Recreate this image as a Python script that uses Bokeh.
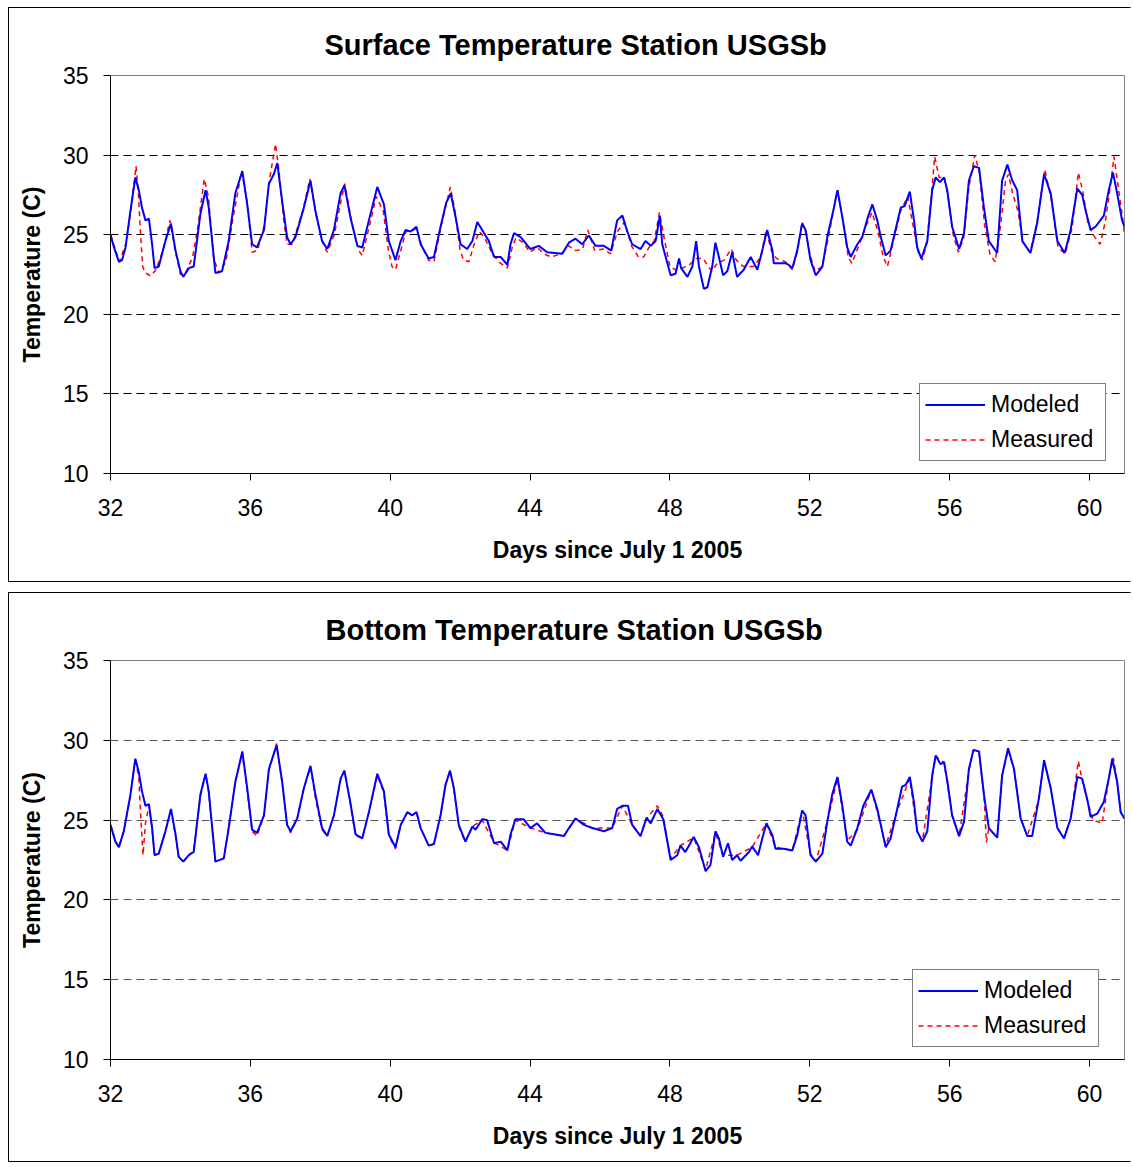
from bokeh.plotting import figure
from bokeh.models import FixedTicker, Legend, LegendItem, Title, Range1d
from bokeh.layouts import column
from bokeh.embed import file_html
from bokeh.resources import INLINE

FONT = "Liberation Sans"

# ---------------- data ----------------
x_ticks = [32, 36, 40, 44, 48, 52, 56, 60]
y_ticks = [10, 15, 20, 25, 30, 35]
grid_vals = [15, 20, 25, 30]

titles = ["Surface Temperature  Station USGSb", "Bottom Temperature  Station USGSb"]
x_label = "Days since July 1 2005"
y_label = "Temperature (C)"
series_names = ["Modeled", "Measured"]

surf_mod_day = [32.0, 32.1, 32.24, 32.33, 32.43, 32.57, 32.71, 32.81, 32.9, 33.0, 33.1, 33.19, 33.26, 33.38,
                33.57, 33.73, 33.86, 34.0, 34.08, 34.24, 34.38, 34.57, 34.72, 34.81, 35.0, 35.19, 35.38, 35.57,
                35.77, 35.91, 36.05, 36.19, 36.39, 36.53, 36.67, 36.77, 36.91, 37.05, 37.15, 37.29, 37.53, 37.72,
                37.86, 38.05, 38.2, 38.39, 38.58, 38.69, 38.86, 39.06, 39.2, 39.39, 39.63, 39.82, 39.96, 40.15,
                40.3, 40.44, 40.58, 40.75, 40.87, 41.1, 41.25, 41.44, 41.6, 41.73, 41.87, 42.01, 42.2, 42.35,
                42.49, 42.63, 42.82, 42.97, 43.16, 43.35, 43.44, 43.54, 43.73, 44.01, 44.25, 44.49, 44.92, 45.11,
                45.3, 45.49, 45.68, 45.87, 46.11, 46.32, 46.49, 46.64, 46.78, 46.92, 47.16, 47.3, 47.45, 47.59,
                47.71, 47.78, 48.02, 48.16, 48.26, 48.32, 48.5, 48.64, 48.75, 48.83, 48.97, 49.07, 49.21, 49.3,
                49.4, 49.52, 49.64, 49.78, 49.92, 50.11, 50.31, 50.5, 50.64, 50.78, 50.93, 50.97, 51.16, 51.31,
                51.4, 51.5, 51.64, 51.78, 51.88, 52.02, 52.17, 52.36, 52.5, 52.69, 52.79, 52.93, 53.07, 53.17,
                53.36, 53.5, 53.66, 53.79, 53.93, 54.03, 54.17, 54.31, 54.45, 54.6, 54.71, 54.86, 54.98, 55.07,
                55.19, 55.36, 55.5, 55.6, 55.72, 55.84, 55.93, 56.07, 56.27, 56.41, 56.55, 56.69, 56.84, 56.98,
                57.12, 57.36, 57.5, 57.65, 57.79, 57.93, 58.08, 58.31, 58.5, 58.7, 58.89, 59.08, 59.29, 59.46,
                59.65, 59.79, 59.89, 60.03, 60.17, 60.41, 60.55, 60.67, 60.79, 60.93, 61.0]
surf_mod_t = [25.0, 24.2, 23.3, 23.4, 24.2, 26.5, 28.6, 27.8, 26.7, 25.9, 26.0, 24.4, 22.9, 23.0,
              24.6, 25.7, 24.0, 22.7, 22.35, 22.9, 23.0, 26.3, 27.8, 26.7, 22.6, 22.7, 24.6, 27.6,
              29.0, 26.9, 24.4, 24.2, 25.3, 28.2, 28.8, 29.5, 27.1, 24.85, 24.4, 24.85, 26.7, 28.4,
              26.5, 24.6, 24.1, 25.3, 27.6, 28.1, 26.1, 24.3, 24.2, 25.9, 28.0, 26.9, 24.6, 23.4,
              24.6, 25.3, 25.2, 25.5, 24.4, 23.5, 23.6, 25.5, 27.0, 27.6, 26.1, 24.4, 24.1, 24.6,
              25.8, 25.3, 24.6, 23.6, 23.6, 23.1, 24.4, 25.1, 24.85, 24.1, 24.3, 23.9, 23.8, 24.5,
              24.75, 24.4, 24.95, 24.3, 24.3, 24.0, 25.9, 26.2, 25.2, 24.4, 24.1, 24.6, 24.3, 24.6,
              26.2, 24.4, 22.45, 22.55, 23.5, 22.9, 22.35, 23.0, 24.6, 23.0, 21.6, 21.7, 23.0, 24.5,
              23.6, 22.45, 22.7, 23.9, 22.35, 22.8, 23.6, 22.8, 24.0, 25.3, 24.0, 23.2, 23.2, 23.2,
              23.1, 22.9, 24.0, 25.7, 25.3, 23.4, 22.45, 23.0, 24.85, 26.7, 27.8, 26.1, 24.2, 23.6,
              24.4, 24.85, 26.1, 26.9, 25.9, 24.85, 23.7, 24.0, 25.3, 26.7, 26.8, 27.7, 25.9, 24.2,
              23.5, 24.6, 27.8, 28.6, 28.3, 28.6, 27.8, 25.5, 24.1, 25.1, 28.4, 29.3, 29.2, 26.7,
              24.6, 23.85, 28.4, 29.4, 28.4, 27.8, 24.6, 23.85, 25.7, 28.8, 27.6, 24.6, 23.85, 25.3,
              27.9, 27.5, 26.5, 25.3, 25.5, 26.2, 27.8, 28.9, 27.6, 25.9, 25.5]

surf_meas_day = [32.0, 32.15, 32.25, 32.45, 32.6, 32.73, 32.8, 32.86, 32.92, 33.0, 33.15, 33.3, 33.5, 33.7,
                 33.85, 34.0, 34.15, 34.35, 34.5, 34.68, 34.8, 34.95, 35.1, 35.3, 35.5, 35.75, 35.9, 36.05,
                 36.2, 36.4, 36.55, 36.72, 36.82, 36.95, 37.05, 37.2, 37.5, 37.7, 37.9, 38.1, 38.2, 38.4,
                 38.6, 38.7, 38.9, 39.1, 39.2, 39.4, 39.6, 39.8, 39.95, 40.05, 40.15, 40.3, 40.45, 40.6,
                 40.75, 40.9, 41.1, 41.25, 41.45, 41.72, 41.85, 42.0, 42.1, 42.25, 42.4, 42.55, 42.7, 42.9,
                 43.1, 43.35, 43.5, 43.6, 43.8, 44.0, 44.2, 44.4, 44.6, 44.9, 45.1, 45.3, 45.5, 45.65,
                 45.85, 46.1, 46.3, 46.5, 46.7, 46.9, 47.1, 47.25, 47.4, 47.55, 47.7, 47.85, 48.0, 48.15,
                 48.35, 48.55, 48.75, 48.95, 49.1, 49.2, 49.35, 49.55, 49.75, 49.9, 50.1, 50.25, 50.4, 50.6,
                 50.75, 50.9, 51.05, 51.3, 51.5, 51.65, 51.78, 51.9, 52.0, 52.15, 52.35, 52.55, 52.75, 52.8,
                 52.95, 53.1, 53.2, 53.4, 53.6, 53.78, 53.95, 54.1, 54.22, 54.4, 54.6, 54.8, 54.95, 55.1,
                 55.22, 55.35, 55.5, 55.57, 55.7, 55.85, 55.95, 56.1, 56.25, 56.4, 56.55, 56.72, 56.85, 57.0,
                 57.15, 57.3, 57.45, 57.6, 57.68, 57.8, 57.95, 58.1, 58.3, 58.5, 58.72, 58.9, 59.1, 59.3,
                 59.5, 59.68, 59.8, 59.95, 60.1, 60.3, 60.45, 60.58, 60.7, 60.82, 60.95, 61.0]
surf_meas_t = [25.0, 24.0, 23.3, 24.5, 26.8, 29.3, 27.5, 25.0, 23.0, 22.6, 22.4, 22.8, 24.0, 25.9,
               24.0, 22.5, 22.6, 23.6, 25.5, 28.5, 27.4, 23.5, 22.6, 23.3, 26.0, 29.0, 27.2, 23.9,
               24.0, 25.6, 28.5, 30.7, 29.0, 26.0, 24.4, 24.4, 26.5, 28.5, 26.0, 24.3, 23.9, 25.0,
               27.2, 28.2, 25.8, 24.0, 23.7, 25.5, 27.4, 26.5, 24.0, 23.0, 22.8, 24.0, 25.2, 25.2,
               25.4, 24.3, 23.4, 23.3, 25.5, 28.0, 26.5, 24.0, 23.4, 23.3, 24.4, 25.2, 24.8, 23.9,
               23.3, 22.9, 24.3, 24.8, 24.5, 23.9, 24.2, 23.8, 23.6, 23.8, 24.3, 24.0, 24.1, 25.3,
               24.0, 24.1, 23.8, 25.2, 25.8, 24.3, 23.6, 23.6, 24.2, 24.6, 26.4, 24.6, 23.0, 22.8,
               22.9, 23.1, 23.5, 23.5, 23.0, 22.7, 23.2, 23.4, 24.1, 23.4, 23.0, 23.0, 23.0, 23.6,
               25.3, 24.0, 23.5, 23.3, 22.8, 24.0, 25.8, 25.0, 23.8, 22.7, 23.0, 25.0, 27.4, 27.8,
               25.8, 23.6, 23.2, 24.3, 25.5, 26.4, 25.2, 23.6, 23.0, 24.7, 26.5, 27.4, 25.6, 23.9,
               23.4, 24.5, 28.0, 29.9, 28.6, 28.6, 27.4, 25.0, 23.9, 24.8, 28.0, 30.0, 28.9, 25.6,
               23.8, 23.3, 25.5, 28.4, 28.8, 27.6, 26.5, 24.5, 23.9, 25.8, 29.1, 27.3, 24.2, 23.8,
               25.4, 28.9, 27.8, 25.8, 25.0, 24.4, 25.8, 27.8, 29.9, 28.0, 26.0, 25.0]

bot_mod_day = [32.0, 32.14, 32.24, 32.38, 32.57, 32.71, 32.81, 32.9, 33.0, 33.1, 33.19, 33.26, 33.38, 33.57,
               33.73, 33.86, 33.95, 34.08, 34.24, 34.38, 34.57, 34.72, 34.81, 35.0, 35.24, 35.38, 35.57, 35.77,
               35.91, 36.05, 36.19, 36.39, 36.53, 36.75, 36.91, 37.05, 37.15, 37.34, 37.53, 37.72, 37.86, 38.05,
               38.2, 38.39, 38.58, 38.69, 38.86, 39.01, 39.2, 39.39, 39.63, 39.82, 39.96, 40.15, 40.3, 40.49,
               40.63, 40.75, 40.87, 41.1, 41.25, 41.44, 41.58, 41.71, 41.82, 41.96, 42.15, 42.35, 42.44, 42.63,
               42.77, 42.97, 43.16, 43.35, 43.44, 43.58, 43.82, 44.01, 44.2, 44.44, 44.73, 44.97, 45.11, 45.3,
               45.54, 45.78, 46.11, 46.35, 46.49, 46.64, 46.8, 46.92, 47.16, 47.33, 47.45, 47.64, 47.81, 48.02,
               48.21, 48.3, 48.44, 48.57, 48.68, 48.83, 49.02, 49.16, 49.3, 49.4, 49.52, 49.66, 49.78, 49.92,
               50.02, 50.26, 50.35, 50.52, 50.64, 50.76, 50.93, 51.02, 51.26, 51.5, 51.64, 51.78, 51.88, 52.02,
               52.17, 52.36, 52.5, 52.64, 52.79, 52.93, 53.07, 53.17, 53.36, 53.53, 53.76, 53.93, 54.03, 54.17,
               54.31, 54.5, 54.64, 54.74, 54.86, 54.98, 55.07, 55.22, 55.36, 55.5, 55.6, 55.74, 55.84, 55.95,
               56.07, 56.27, 56.41, 56.55, 56.68, 56.84, 56.98, 57.12, 57.36, 57.5, 57.67, 57.84, 58.03, 58.22,
               58.36, 58.55, 58.7, 58.89, 59.08, 59.27, 59.46, 59.65, 59.79, 59.94, 60.03, 60.22, 60.41, 60.55,
               60.65, 60.79, 60.89, 61.0]
bot_mod_t = [24.7, 23.65, 23.3, 24.3, 26.6, 28.85, 28.0, 26.8, 25.9, 26.0, 24.5, 22.8, 22.9, 24.3,
             25.7, 24.1, 22.7, 22.4, 22.8, 23.0, 26.6, 27.9, 26.8, 22.4, 22.6, 24.5, 27.4, 29.3,
             27.0, 24.4, 24.2, 25.3, 28.2, 29.7, 27.4, 24.7, 24.3, 25.1, 27.0, 28.4, 26.6, 24.5,
             24.0, 25.3, 27.6, 28.1, 26.1, 24.1, 23.85, 25.5, 27.9, 26.8, 24.1, 23.3, 24.7, 25.5,
             25.3, 25.5, 24.5, 23.4, 23.5, 25.3, 27.2, 28.1, 27.0, 24.7, 23.65, 24.6, 24.4, 25.05,
             25.0, 23.55, 23.65, 23.1, 24.1, 25.05, 25.05, 24.5, 24.8, 24.2, 24.1, 24.0, 24.5, 25.1,
             24.7, 24.5, 24.3, 24.5, 25.7, 25.9, 25.9, 24.7, 24.0, 25.15, 24.8, 25.7, 25.05, 22.5,
             22.8, 23.4, 23.0, 23.5, 23.95, 23.3, 21.8, 22.2, 24.3, 23.85, 22.7, 23.55, 22.5, 22.8,
             22.45, 23.0, 23.35, 22.8, 23.85, 24.8, 24.05, 23.2, 23.2, 23.1, 24.05, 25.6, 25.3, 22.8,
             22.4, 22.9, 24.9, 26.6, 27.7, 25.9, 23.65, 23.4, 24.5, 25.9, 26.9, 25.7, 24.7, 23.3,
             23.85, 25.7, 27.1, 27.2, 27.7, 26.1, 24.3, 23.65, 24.3, 27.8, 29.05, 28.5, 28.65, 27.2,
             25.3, 24.0, 24.9, 28.2, 29.4, 29.3, 26.6, 24.5, 23.9, 27.8, 29.5, 28.2, 25.1, 24.0,
             24.0, 26.35, 28.75, 27.0, 24.5, 23.85, 25.1, 27.7, 27.6, 26.25, 25.2, 25.4, 26.15, 27.6,
             28.85, 27.4, 25.5, 25.1]

bot_meas_day = [32.0, 32.14, 32.24, 32.38, 32.57, 32.71, 32.81, 32.87, 32.93, 33.0, 33.1, 33.19, 33.26, 33.38,
                33.57, 33.73, 33.86, 33.95, 34.08, 34.24, 34.38, 34.57, 34.72, 34.81, 35.0, 35.24, 35.38, 35.57,
                35.77, 35.91, 36.05, 36.19, 36.39, 36.53, 36.75, 36.91, 37.05, 37.15, 37.34, 37.53, 37.72, 37.86,
                38.05, 38.2, 38.39, 38.58, 38.69, 38.86, 39.01, 39.2, 39.39, 39.63, 39.82, 39.96, 40.15, 40.3,
                40.49, 40.63, 40.75, 40.87, 41.1, 41.25, 41.44, 41.58, 41.71, 41.82, 41.96, 42.15, 42.35, 42.63,
                42.97, 43.35, 43.58, 44.01, 44.44, 44.97, 45.3, 45.78, 46.35, 46.64, 46.92, 47.16, 47.33, 47.64,
                47.81, 47.92, 48.02, 48.3, 48.68, 49.02, 49.3, 49.52, 49.92, 50.35, 50.76, 51.02, 51.5, 51.78,
                52.02, 52.17, 52.5, 52.79, 53.07, 53.36, 53.76, 54.03, 54.17, 54.5, 54.86, 55.07, 55.22, 55.5,
                55.6, 55.84, 56.07, 56.27, 56.55, 56.68, 56.84, 56.98, 57.05, 57.12, 57.36, 57.5, 57.67, 57.84,
                58.03, 58.22, 58.55, 58.7, 58.89, 59.08, 59.27, 59.46, 59.68, 59.79, 59.94, 60.1, 60.36, 60.55,
                60.68, 60.79, 60.89, 61.0]
bot_meas_t = [24.7, 23.7, 23.3, 24.3, 26.5, 28.9, 27.6, 25.0, 22.8, 24.8, 25.9, 24.5, 22.8, 22.9,
              24.3, 25.6, 24.0, 22.7, 22.4, 22.8, 23.1, 26.5, 27.9, 26.7, 22.4, 22.6, 24.5, 27.4,
              29.2, 26.8, 24.3, 24.0, 25.3, 28.1, 29.8, 27.3, 24.7, 24.2, 25.1, 27.0, 28.3, 26.4,
              24.4, 24.0, 25.3, 27.5, 28.1, 26.0, 24.0, 23.9, 25.5, 27.8, 26.7, 24.0, 23.2, 24.7,
              25.5, 25.3, 25.5, 24.5, 23.4, 23.5, 25.3, 27.2, 28.1, 27.0, 24.6, 23.6, 24.6, 25.0,
              23.6, 23.1, 25.0, 24.5, 24.2, 24.0, 25.1, 24.5, 24.5, 25.9, 24.7, 24.0, 25.1, 25.9,
              25.2, 23.8, 22.6, 23.4, 23.9, 21.9, 24.2, 22.8, 22.8, 23.3, 24.8, 23.3, 23.1, 25.6,
              22.9, 22.4, 24.9, 27.6, 23.7, 24.4, 26.9, 24.7, 23.4, 25.6, 27.6, 24.3, 23.7, 27.7,
              29.0, 28.6, 25.3, 24.0, 28.1, 29.4, 29.2, 26.6, 23.6, 24.5, 23.9, 27.8, 29.4, 28.2,
              25.1, 24.0, 26.3, 28.7, 27.0, 24.5, 23.9, 25.1, 28.7, 27.5, 26.2, 25.0, 24.8, 27.6,
              28.9, 27.4, 25.5, 25.1]

panels = [
    dict(title=titles[0], mday=surf_mod_day, mt=surf_mod_t, sday=surf_meas_day, st=surf_meas_t,
         height=575, bottom=110, offset=214, legend=(809, 12), grid="#000000"),
    dict(title=titles[1], mday=bot_mod_day, mt=bot_mod_t, sday=bot_meas_day, st=bot_meas_t,
         height=570, bottom=104, offset=215, legend=(802, 12), grid="#555555"),
]


def make_panel(cfg):
    p = figure(width=1123, height=cfg["height"], x_range=Range1d(32, 61), y_range=Range1d(10, 35),
               output_backend="svg", toolbar_location=None,
               min_border_left=101, min_border_right=8, min_border_top=67, min_border_bottom=cfg["bottom"])
    p.styles = {"border-top": "1px solid black", "border-left": "1px solid black",
                "border-bottom": "1px solid black", "border-right": "1px solid white"}
    p.background_fill_color = "white"
    p.border_fill_color = "white"
    p.outline_line_color = "#808080"
    p.outline_line_width = 1

    t = Title(text=cfg["title"], align="left", offset=cfg["offset"], text_font=FONT,
              text_font_size="29px", text_font_style="bold", text_color="black", standoff=30)
    p.title = t

    for ax in (p.xaxis[0], p.yaxis[0]):
        ax.axis_line_color = "black"
        ax.axis_line_width = 1
        ax.major_tick_in = 0
        ax.major_tick_out = 7
        ax.minor_tick_line_color = None
        ax.major_label_text_font = FONT
        ax.major_label_text_font_size = "23px"
        ax.major_label_text_color = "black"
        ax.axis_label_text_font = FONT
        ax.axis_label_text_font_size = "23px"
        ax.axis_label_text_font_style = "bold"
        ax.axis_label_text_color = "black"
    p.xaxis.ticker = FixedTicker(ticks=x_ticks)
    p.yaxis.ticker = FixedTicker(ticks=y_ticks)
    p.xaxis.axis_label = x_label
    p.yaxis.axis_label = y_label
    p.xaxis.major_label_standoff = 18
    p.yaxis.major_label_standoff = 15
    p.xaxis.axis_label_standoff = 18
    p.yaxis.axis_label_standoff = 15

    p.xgrid.visible = False
    p.ygrid.ticker = FixedTicker(ticks=grid_vals)
    p.ygrid.grid_line_color = cfg["grid"]
    p.ygrid.grid_line_dash = "8 5"
    p.ygrid.grid_line_width = 1

    r_meas = p.line(cfg["sday"], cfg["st"], line_color="#FF0000", line_width=1.5, line_dash="5 4")
    r_mod = p.line(cfg["mday"], cfg["mt"], line_color="#0000FF", line_width=2)

    legend = Legend(items=[LegendItem(label=series_names[0], renderers=[r_mod]),
                           LegendItem(label=series_names[1], renderers=[r_meas])],
                    location=cfg["legend"], orientation="vertical",
                    border_line_color="black", border_line_width=1, background_fill_color="white",
                    background_fill_alpha=1.0, label_text_font=FONT, label_text_font_size="23px",
                    label_text_color="black", glyph_width=60, glyph_height=31, label_standoff=6,
                    label_width=109, spacing=4, padding=5, margin=0)
    p.add_layout(legend)
    return p


p1 = make_panel(panels[0])
p2 = make_panel(panels[1])
layout = column(p1, p2, spacing=10, margin=(7, 0, 0, 8))

open("out.html", "w").write(file_html(layout, INLINE))
